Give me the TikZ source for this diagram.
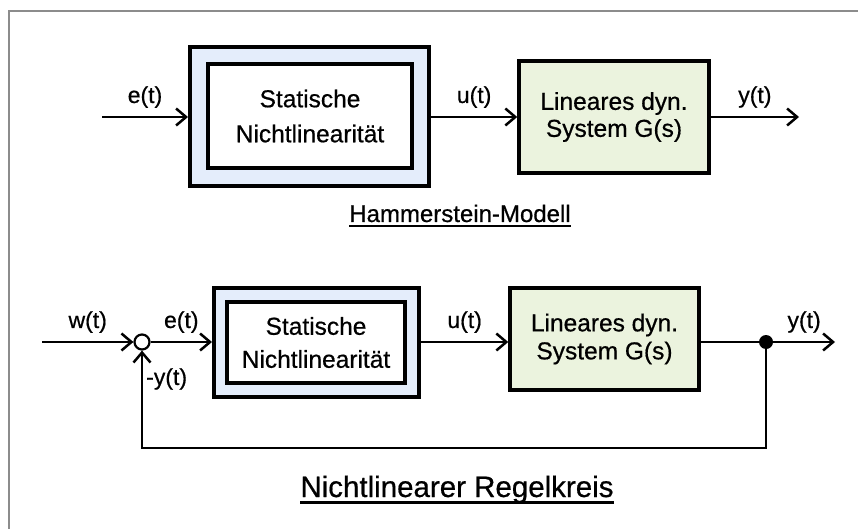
\documentclass[tikz,border=0pt]{standalone}
\usepackage{fontspec}
\setmainfont{Liberation Sans}[FakeBold=0.6]
\usetikzlibrary{arrows.meta,positioning}
\definecolor{frameline}{HTML}{8C8C8C}
\definecolor{nlfill}{HTML}{E4EDFB}
\definecolor{linfill}{HTML}{EBF3DE}
\newcommand{\blockfont}{\fontsize{24.5}{35}\selectfont}
\newcommand{\linfont}{\fontsize{24.5}{27}\selectfont}
\newcommand{\sigfont}{\fontsize{23}{26}\selectfont}
\newcommand{\capfont}{\fontsize{24}{28}\selectfont}
\newcommand{\titlefont}{\fontsize{29.5}{34}\selectfont}
\tikzset{
 every node/.append style={font=\blockfont,align=center},
 nlouter/.style={draw,fill=nlfill,line width=4pt,inner sep=0pt},
 nlinner/.style={draw,fill=white,line width=3.5pt,inner sep=0pt},
 linbox/.style={draw,fill=linfill,line width=3.5pt,inner sep=0pt,font=\linfont},
 signal/.style={-{Straight Barb[length=10pt,width=17pt]},line width=2.5pt},
 route/.style={line width=2.5pt},
 sig/.style={inner sep=1pt,font=\sigfont},
 sumnode/.style={circle,draw,fill=white,line width=2.2pt,minimum size=15pt,inner sep=0pt},
 branchdot/.style={circle,fill,minimum size=14pt,inner sep=0pt},
 caption/.style={inner sep=0pt,anchor=base},
}

\begin{document}
\begin{tikzpicture}[x=1pt,y=-1pt]
\useasboundingbox (0,0) rectangle (858,529);
\draw[frameline,line width=2pt] (9,529) -- (9,11) -- (858,11);

% Hammerstein-Modell
\coordinate (hin) at (102,117);
\node[nlouter,minimum width=239pt,minimum height=139pt] (hnlout) at (309.5,116.5) {};
\node[nlinner,minimum width=204pt,minimum height=104pt] (hnlin) at (310,116) {Statische\\Nichtlinearität};
\node[linbox,minimum width=190pt,minimum height=112pt] (hlin) at (614,117) {Lineares dyn.\\System G(s)};
\coordinate (hout) at (799,117);
\draw[signal] (hin) -- node[sig,above=7pt] {e(t)} (hnlout.west |- hin);
\draw[signal] (hnlout.east |- hlin) -- node[sig,above=7pt] {u(t)} (hlin.west);
\draw[signal] (hlin.east) -- node[sig,above=7pt] {y(t)} (hout);
\node[caption,font=\capfont] (htitle) at (460,222) {Hammerstein-Modell};
\draw[line width=2pt] ([yshift=-3.5pt]htitle.base west) -- ([yshift=-3.5pt]htitle.base east);

% Nichtlinearer Regelkreis
\coordinate (rin) at (42,342);
\node[sumnode] (sum) at (142,342) {};
\node[nlouter,minimum width=205pt,minimum height=109pt] (rnlout) at (316.5,342.5) {};
\node[nlinner,minimum width=178pt,minimum height=81pt,font=\fontsize{24.5}{33}\selectfont] (rnlin) at (316,342.5) {Statische\\Nichtlinearität};
\node[linbox,minimum width=189pt,minimum height=102pt,font=\fontsize{24.5}{28}\selectfont] (rlin) at (604.5,339) {Lineares dyn.\\System G(s)};
\node[branchdot] (split) at (766,342) {};
\coordinate (rout) at (835,342);
\coordinate (fb) at (766,448);
\draw[signal] (rin) -- node[sig,above=7pt] {w(t)} (sum);
\draw[signal] (sum) -- node[sig,above=7pt] {e(t)} (rnlout.west |- sum);
\draw[signal] (rnlout.east |- sum) -- node[sig,above=7pt] {u(t)} (rlin.west |- sum);
\draw[route] (rlin.east |- sum) -- (split);
\draw[signal] (split) -- node[sig,above=7pt] {y(t)} (rout);
\draw[signal] (split) -- (fb) -- (sum |- fb) -- (sum.south);
\node[sig,anchor=west] (fblabel) at (145,379) {-y(t)};
\node[caption,font=\titlefont] (rtitle) at (457,497) {Nichtlinearer Regelkreis};
\draw[line width=3pt] ([yshift=-5pt]rtitle.base west) -- ([yshift=-5pt]rtitle.base east);
\end{tikzpicture}
\end{document}
